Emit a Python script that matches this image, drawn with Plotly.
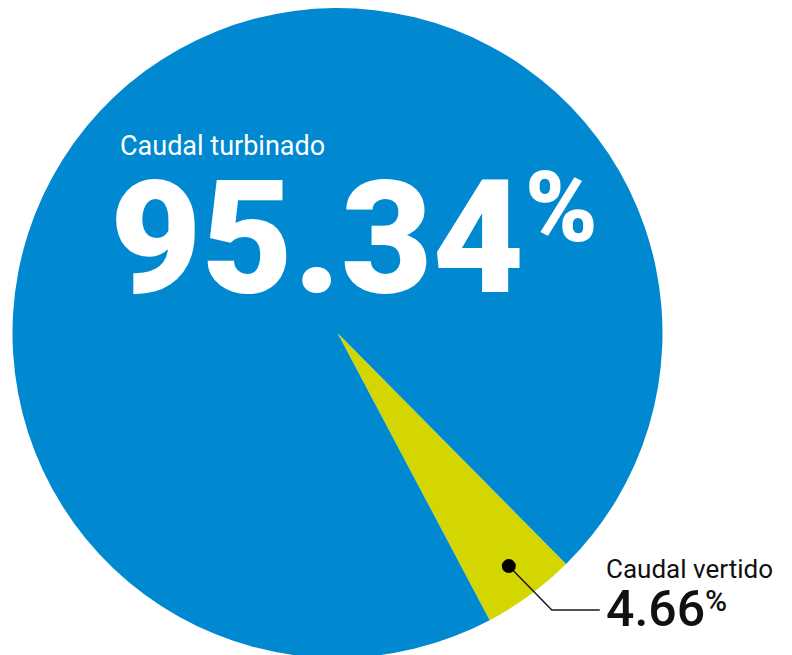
import math
import plotly.graph_objects as go

# ---- data ----
labels = ["Caudal vertido", "Caudal turbinado"]
values = [4.66, 95.34]
value_text = ["4.66", "95.34"]
colors = ["#d3d600", "#0089d1"]

W, H = 792, 655
OFF = 8  # page body margin offset
ROT = 135.3  # degrees clockwise from 12 o'clock where first slice starts

# pie geometry in viewport pixels
CX, CY, R = 337.5, 333.0, 325.0


def px(x):
    return (x - OFF) / W


def py(y):
    return 1 - (y - OFF) / H


fig = go.Figure()
fig.add_trace(go.Pie(
    labels=labels,
    values=values,
    sort=False,
    direction="clockwise",
    rotation=ROT,
    marker=dict(colors=colors, line=dict(width=0)),
    textinfo="none",
    hoverinfo="skip",
    showlegend=False,
    domain=dict(x=[px(CX - R), px(CX + R)], y=[py(CY + R), py(CY - R)]),
))

# dot placed at mid-angle of the small slice
total = sum(values)
mid = math.radians(ROT + 360 * values[0] / total / 2)
dr = 0.89 * R
dx = CX + dr * math.sin(mid)
dy = CY - dr * math.cos(mid)
dot_r = 7

shapes = [
    dict(type="path", xref="paper", yref="paper",
         path=f"M {px(dx)},{py(dy)} L {px(dx + 43)},{py(dy + 44)} L {px(dx + 91)},{py(dy + 44)}",
         line=dict(color="#1a1a1a", width=1.5)),
    dict(type="circle", xref="paper", yref="paper",
         x0=px(dx - dot_r), x1=px(dx + dot_r), y0=py(dy + dot_r), y1=py(dy - dot_r),
         fillcolor="#000000", line=dict(color="#000000", width=0)),
]

FONT = "Roboto"
annotations = [
    dict(text=labels[1], x=px(118), y=py(146), xanchor="left", yanchor="middle",
         font=dict(family=FONT, size=27, color="white")),
    dict(text=value_text[1], x=px(108), y=py(238), xanchor="left", yanchor="middle",
         font=dict(family=FONT, size=158, color="white", weight=900)),
    dict(text="%", x=px(523), y=py(207), xanchor="left", yanchor="middle",
         font=dict(family=FONT, size=98, color="white", weight=900)),
    dict(text=labels[0], x=px(604), y=py(569), xanchor="left", yanchor="middle",
         font=dict(family=FONT, size=26, color="#111111")),
    dict(text=value_text[0], x=px(604), y=py(609), xanchor="left", yanchor="middle",
         font=dict(family=FONT, size=50, color="#111111", weight=500)),
    dict(text="%", x=px(703), y=py(600), xanchor="left", yanchor="middle",
         font=dict(family=FONT, size=30, color="#111111", weight=500)),
]
for a in annotations:
    a.update(xref="paper", yref="paper", showarrow=False)

fig.update_layout(
    width=W, height=H,
    margin=dict(l=0, r=0, t=0, b=0),
    paper_bgcolor="white", plot_bgcolor="white",
    shapes=shapes, annotations=annotations,
)

fig.write_html("out.html")
